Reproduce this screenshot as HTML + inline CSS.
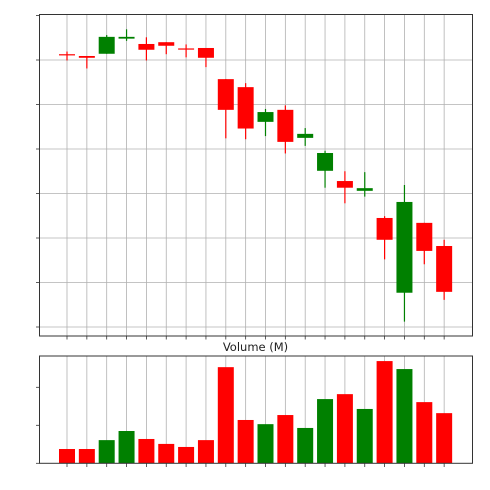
<!DOCTYPE html>
<html><head><meta charset="utf-8"><style>
html,body{margin:0;padding:0;background:#fff}
svg{display:block}
</style></head><body>
<svg id="chart" width="490" height="490" xmlns="http://www.w3.org/2000/svg">
<rect width="490" height="490" fill="#fff"/>
<g id="price-grid"></g><g id="price-marks"></g>
<rect x="39.5" y="14.5" width="433" height="321.5" fill="none" stroke="#333" stroke-width="1"/>
<text x="255.5" y="351" text-anchor="middle" font-family="DejaVu Sans, sans-serif" font-size="11.5" fill="#222">Volume (M)</text>
<g id="vol-grid"></g><g id="vol-marks"></g>
<rect x="39.5" y="356" width="433" height="107.3" fill="none" stroke="#333" stroke-width="1"/>
</svg>
<script>
const opens  = [161.3,160.9,161.4,164.8,163.6,164.0,162.6,162.7,155.7,153.9,146.1,148.8,142.5,135.1,132.8,130.6,124.5,107.7,123.4,118.2];
const highs  = [161.9,160.9,165.6,166.9,165.1,164.0,163.5,162.7,155.7,154.8,149.0,149.8,144.7,139.6,135.0,134.8,124.9,131.9,123.4,119.6];
const lows   = [159.9,158.1,161.4,164.3,159.9,161.3,160.6,158.4,142.4,142.2,142.9,139.0,140.7,131.3,127.8,129.3,115.2,101.2,114.1,106.1];
const closes = [161.2,160.5,165.2,165.2,162.3,163.2,162.5,160.5,148.8,144.6,148.3,141.6,143.4,139.1,131.3,131.2,119.6,128.1,117.1,107.9];
const volumes = [3.76,3.76,6.1,8.5,6.4,5.1,4.3,6.1,25.3,11.4,10.3,12.7,9.3,16.9,18.2,14.3,26.9,24.8,16.1,13.2];
const priceTicks = [100,110,120,130,140,150,160,170];
const volTicks = [0,10,20];

const NS='http://www.w3.org/2000/svg';
const xS = i => 67 + i*19.85;
const yP = p => 327 - (p-100)*4.45;
const yV = v => 463.3 - v*3.8;
function mk(parent, tag, attrs){const e=document.createElementNS(NS,tag);for(const k in attrs)e.setAttribute(k,attrs[k]);document.getElementById(parent).appendChild(e);return e;}

const G='#b0b0b0';
opens.forEach((o,i)=>{
  const x=xS(i);
  let g=mk('price-grid','line',{x1:x,x2:x,y1:14.5,y2:336,stroke:G,'stroke-width':0.8});
  
  
  let t=mk('price-grid','line',{x1:x,x2:x,y1:336,y2:339.5,stroke:'#333','stroke-width':0.8});
  
  
  let g2=mk('vol-grid','line',{x1:x,x2:x,y1:356,y2:463.3,stroke:G,'stroke-width':0.8});
  
  
  let t2=mk('vol-grid','line',{x1:x,x2:x,y1:463.3,y2:467,stroke:'#333','stroke-width':0.8});
  
  
});
priceTicks.forEach(p=>{
  const y=yP(p);
  if(y>15.5){
    let g=mk('price-grid','line',{x1:39.5,x2:472.5,y1:y,y2:y,stroke:G,'stroke-width':0.8});
    
    
  }
  let t=mk('price-grid','line',{x1:36,x2:39.5,y1:y,y2:y,stroke:'#333','stroke-width':0.8});
  
  
});
volTicks.forEach(v=>{
  const y=yV(v);
  let t=mk('vol-grid','line',{x1:36,x2:39.5,y1:y,y2:y,stroke:'#333','stroke-width':0.8});
  
  
});
const W=16;
opens.forEach((o,i)=>{
  const c=closes[i], x=xS(i), col=c>=o?'#008000':'#ff0000';
  let w=mk('price-marks','line',{x1:x,x2:x,y1:yP(highs[i]),y2:yP(lows[i]),stroke:col,'stroke-width':1.2});
  
  
  const top=yP(Math.max(o,c)), h=Math.max(1.2,yP(Math.min(o,c))-top);
  let b=mk('price-marks','rect',{x:x-W/2,y:top,width:W,height:h,fill:col});
  
  
  let v=mk('vol-marks','rect',{x:x-W/2,y:yV(volumes[i]),width:W,height:yV(0)-yV(volumes[i]),fill:col});
  
  
});
</script>
</body></html>
